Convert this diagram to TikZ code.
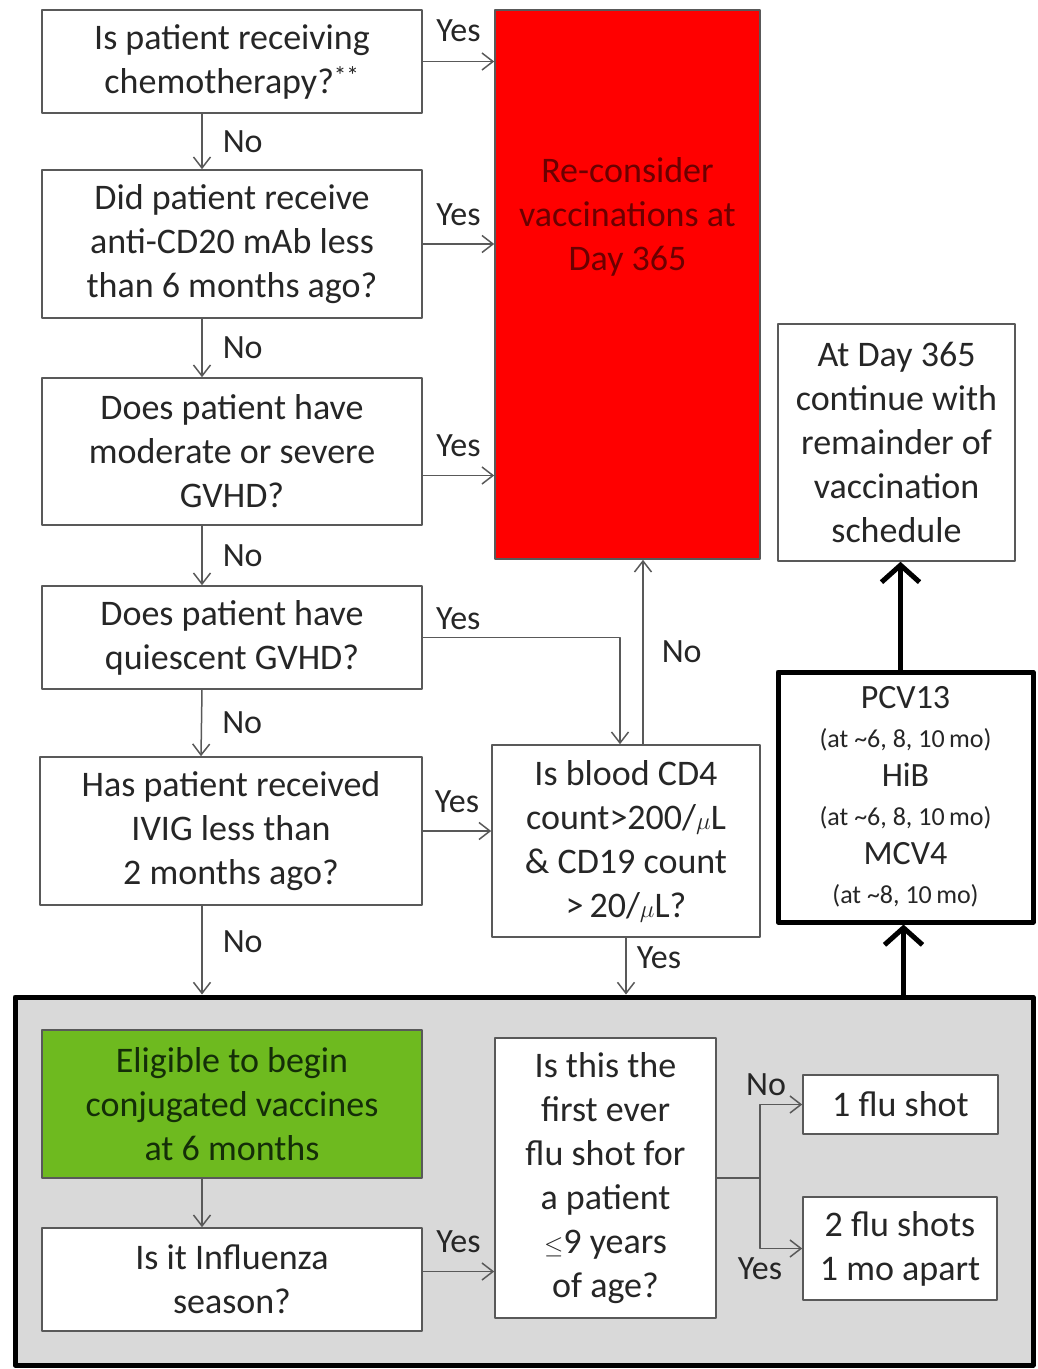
\documentclass[tikz,border=0pt]{standalone}
\usepackage{fontspec}
\setmainfont{Carlito}
\usepackage{tikz}
\usetikzlibrary{arrows.meta}
\definecolor{linegr}{rgb}{0.35,0.35,0.35}
\definecolor{textgr}{rgb}{0.15,0.15,0.15}
\definecolor{redbox}{rgb}{1.,0.,0.}
\definecolor{redtext}{rgb}{0.42,0.,0.}
\definecolor{greenbox}{rgb}{0.43,0.73,0.12}
\definecolor{greentext}{rgb}{0.08,0.18,0.03}
\definecolor{panelgr}{rgb}{0.85,0.85,0.85}
\tikzset{
  qbox/.style={draw=linegr,line width=1.6pt,fill=white,align=center,inner sep=0pt,text=textgr,font=\fontsize{36}{44}\selectfont},
  thickbox/.style={draw=black,line width=5pt,align=center,inner sep=0pt},
  arr/.style={-{Straight Barb[length=11pt,width=17pt]},draw=linegr,line width=1.5pt},
  bigarr/.style={-{Straight Barb[length=17pt,width=38pt]},draw=black,line width=5pt},
  lbl/.style={text=textgr,font=\fontsize{34}{38}\selectfont,inner sep=2pt}
}
\newcommand{\agenote}[1]{{\fontsize{26}{39}\selectfont(at \textasciitilde#1\,mo)}}

\begin{document}
\begin{tikzpicture}[line cap=round,line join=round,x=1pt,y=-1pt]
            \useasboundingbox (0,0) rectangle (1038,1369);
            \node[thickbox,fill=panelgr,minimum width=1018,minimum height=368] (panel) at (524,1181) {};
            \node[qbox,minimum width=380,minimum height=103] (chemo) at (232,61.5) {Is patient receiving\\chemotherapy?\textsuperscript{**}};
            \node[qbox,minimum width=380,minimum height=148] (cdtwenty) at (232,244) {Did patient receive\\anti-CD20 mAb less\\than 6 months ago?};
            \node[qbox,minimum width=380,minimum height=147] (modgvhd) at (232,451.5) {Does patient have\\moderate or severe\\GVHD?};
            \node[qbox,minimum width=380,minimum height=103] (quiesc) at (232,637.5) {Does patient have\\quiescent GVHD?};
            \node[qbox,minimum width=382,minimum height=148] (ivig) at (231,831) {Has patient received\\IVIG less than\\2 months ago?};
            \node[qbox,fill=redbox,minimum width=265,minimum height=549] (recons) at (627.5,284.5) {};
            \node[qbox,fill=none,draw=none,text=redtext] (reconstext) at (627.5,217) {Re-consider\\vaccinations at\\Day 365};
            \node[qbox,minimum width=237,minimum height=237] (dayend) at (896.5,442.5) {At Day 365\\continue with\\remainder of\\vaccination\\schedule};
            \node[thickbox,fill=white,text=textgr,minimum width=255,minimum height=250,font=\fontsize{34}{39}\selectfont] (conj) at (905.5,797) {PCV13\\\agenote{6, 8, 10}\\HiB\\\agenote{6, 8, 10}\\MCV4\\\agenote{8, 10}};
            \node[qbox,minimum width=268,minimum height=192] (cdcount) at (626,841) {Is blood CD4\\count>200/$\mu$L\\\&\ CD19 count\\>\,20/$\mu$L?};
            \node[qbox,fill=greenbox,text=greentext,minimum width=380,minimum height=148] (eligible) at (232,1104) {Eligible to begin\\conjugated vaccines\\at 6 months};
            \node[qbox,minimum width=380,minimum height=103] (season) at (232,1279.5) {Is it Influenza\\season?};
            \node[qbox,minimum width=221,minimum height=280] (firstflu) at (605.5,1178) {Is this the\\first ever\\flu shot for\\a patient\\$\le$9 years\\of age?};
            \node[qbox,minimum width=195,minimum height=59] (oneshot) at (900.5,1104.5) {1 flu shot};
            \node[qbox,minimum width=194,minimum height=103] (twoshot) at (900,1248.5) {2 flu shots\\1 mo apart};
            \coordinate (split) at (760,1178);
            \draw[arr] (chemo.east) -- node[lbl,above=17pt] {Yes} (chemo.east -| recons.west);
            \draw[arr] (cdtwenty.east) -- node[lbl,above=16pt] {Yes} (cdtwenty.east -| recons.west);
            \draw[arr] ([yshift=-24pt]modgvhd.east) -- node[lbl,above=16pt] {Yes} ([yshift=-24pt]modgvhd.east -| recons.west);
            \draw[arr] (quiesc.east) -| node[lbl,pos=0.09,above=5pt] {Yes} ([xshift=-6pt]cdcount.north);
            \draw[arr] (ivig.east) -- node[lbl,above=16pt] {Yes} (ivig.east -| cdcount.west);
            \draw[arr] ([xshift=-30pt]chemo.south) -- node[lbl,right=18pt] {No} ([xshift=-30pt]cdtwenty.north);
            \draw[arr] ([xshift=-30pt]cdtwenty.south) -- node[lbl,right=18pt] {No} ([xshift=-30pt]modgvhd.north);
            \draw[arr] ([xshift=-30pt]modgvhd.south) -- node[lbl,right=18pt] {No} ([xshift=-30pt]quiesc.north);
            \draw[arr] ([xshift=-30pt]quiesc.south) -- node[lbl,right=18pt] {No} ([xshift=-30pt]ivig.north);
            \draw[arr] ([xshift=-29pt]ivig.south) -- node[lbl,right=18pt,yshift=8pt] {No} ([xshift=-29pt]ivig.south |- panel.north);
            \draw[arr] ([xshift=17pt]cdcount.north) -- node[lbl,right=16pt] {No} ([xshift=17pt]cdcount.north |- recons.south);
            \draw[arr] (cdcount.south) -- node[lbl,right=8pt,yshift=8pt] {Yes} (cdcount.south |- panel.north);
            \draw[arr] ([xshift=-30pt]eligible.south) -- ([xshift=-30pt]season.north);
            \draw[arr] ([yshift=8pt]season.east) -- node[lbl,above=16pt] {Yes} ([yshift=8pt]season.east -| firstflu.west);
            \draw[draw=linegr,line width=1.5pt] (firstflu.east) -- (split);
            \draw[arr] (split) |- node[lbl,pos=0.5,above=6pt,xshift=6pt] {No} (oneshot.west);
            \draw[arr] (split) |- node[lbl,pos=0.5,below=6pt] {Yes} (twoshot.west);
            \draw[bigarr] ([xshift=-2pt]conj.south |- panel.north) -- ([xshift=-2pt]conj.south);
            \draw[bigarr] ([xshift=-5pt]conj.north) -- ([xshift=-5pt]conj.north |- dayend.south);
        \end{tikzpicture}
\end{document}
